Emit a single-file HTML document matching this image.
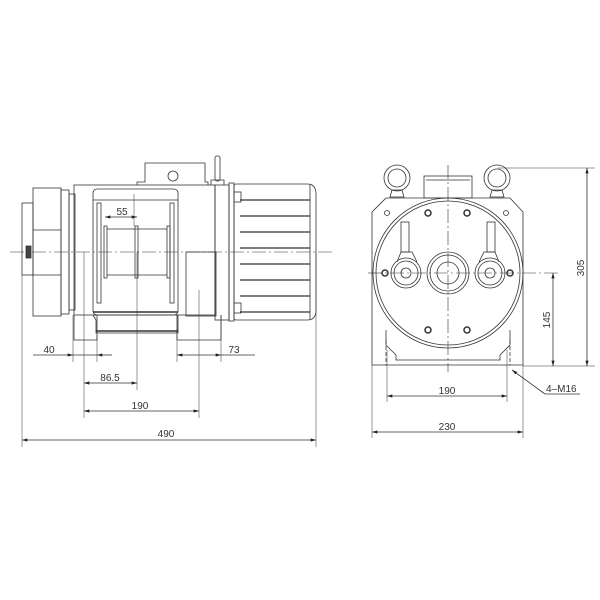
<!DOCTYPE html>
<html><head><style>html,body{margin:0;padding:0;background:#fff}svg{display:block}</style></head>
<body>
<svg width="600" height="600" viewBox="0 0 600 600" xmlns="http://www.w3.org/2000/svg" font-family="Liberation Sans, sans-serif" font-size="10" fill="none" stroke="#333" stroke-width="0.8">
<defs>
<marker id="a" viewBox="0 0 10 6" refX="10" refY="3" markerWidth="8" markerHeight="4" orient="auto-start-reverse"><path d="M0,0L10,3L0,6z" fill="#222" stroke="none"/></marker>
</defs>
<!-- LEFT VIEW -->
<line x1="10" y1="252" x2="335" y2="252" stroke-dasharray="14,3,2,3" stroke-width="0.6"/>
<rect x="22" y="203" width="11" height="72"/>
<rect x="26" y="246" width="5" height="12" fill="#444"/>
<rect x="33" y="188" width="28" height="128"/>
<line x1="33" y1="230" x2="61" y2="230"/><line x1="33" y1="275" x2="61" y2="275"/>
<rect x="61" y="190" width="8" height="124"/>
<rect x="69" y="194" width="6" height="116"/>
<rect x="74" y="185" width="141" height="130"/>
<path d="M74,315 V340 H97 V315"/>
<path d="M177,315 V340 H221 V315"/>
<rect x="93" y="189" width="85" height="126" rx="4"/>
<line x1="93" y1="200" x2="178" y2="200"/>
<rect x="97" y="203" width="4" height="100"/>
<rect x="170" y="203" width="4" height="100"/>
<rect x="104" y="226" width="3" height="52"/>
<rect x="135" y="226" width="3" height="52"/>
<rect x="167" y="226" width="3" height="52"/>
<line x1="107" y1="229" x2="167" y2="229"/><line x1="107" y1="275" x2="167" y2="275"/>
<line x1="93" y1="312" x2="178" y2="312" stroke-width="1.5"/>
<path d="M93,315 L96,320 V333 H178 V315"/>
<line x1="96" y1="331" x2="178" y2="331" stroke-width="1.5"/>
<rect x="186" y="252" width="30" height="64"/>
<path d="M137,185 V182 H145 V163 H205 V182 H208 V185"/>
<circle cx="173" cy="176" r="5"/>
<rect x="215" y="156" width="5" height="25" rx="2"/>
<path d="M211,185 V180 H224 V185"/>
<rect x="215" y="185" width="14" height="135"/>
<rect x="229" y="183" width="5" height="138"/>
<rect x="234" y="184" width="76" height="136" rx="2"/>
<path d="M310,184 Q316,186 316,194 V310 Q316,318 310,320"/>
<g stroke-width="1.3">
<line x1="240" y1="200" x2="310" y2="200"/><line x1="240" y1="216" x2="310" y2="216"/>
<line x1="240" y1="232" x2="310" y2="232"/><line x1="240" y1="248" x2="310" y2="248"/>
<line x1="240" y1="264" x2="310" y2="264"/><line x1="240" y1="280" x2="310" y2="280"/>
<line x1="240" y1="296" x2="310" y2="296"/><line x1="240" y1="312" x2="310" y2="312"/>
</g>
<rect x="234" y="192" width="7" height="10"/><rect x="234" y="303" width="7" height="10"/>
<g stroke-width="0.5">
<line x1="73" y1="315" x2="73" y2="362"/><line x1="84" y1="252" x2="84" y2="418"/>
<line x1="97" y1="335" x2="97" y2="362"/><line x1="137" y1="252" x2="137" y2="390"/>
<line x1="199" y1="290" x2="199" y2="418"/><line x1="177" y1="335" x2="177" y2="362"/>
<line x1="221" y1="315" x2="221" y2="362"/>
<line x1="22" y1="275" x2="22" y2="447"/><line x1="316" y1="252" x2="316" y2="447"/>
<line x1="134" y1="194" x2="134" y2="226"/>
</g>
<line x1="33" y1="355" x2="73" y2="355" marker-end="url(#a)"/>
<line x1="112" y1="355" x2="97" y2="355" marker-end="url(#a)"/>
<line x1="73" y1="355" x2="97" y2="355"/>
<line x1="177" y1="355" x2="221" y2="355" marker-start="url(#a)" marker-end="url(#a)"/>
<line x1="221" y1="355" x2="255" y2="355"/>
<line x1="84" y1="383" x2="137" y2="383" marker-start="url(#a)" marker-end="url(#a)"/>
<line x1="84" y1="411" x2="199" y2="411" marker-start="url(#a)" marker-end="url(#a)"/>
<line x1="22" y1="440" x2="316" y2="440" marker-start="url(#a)" marker-end="url(#a)"/>
<line x1="105" y1="217" x2="137" y2="217" marker-start="url(#a)" marker-end="url(#a)"/>
<g fill="#333" stroke="none" text-anchor="middle">
<text x="122" y="215">55</text>
<text x="49" y="353">40</text>
<text x="234" y="353">73</text>
<text x="110" y="381">86.5</text>
<text x="140" y="409">190</text>
<text x="166" y="437">490</text>
</g>
<!-- RIGHT VIEW -->
<line x1="448" y1="165" x2="448" y2="372" stroke-dasharray="14,3,2,3" stroke-width="0.6"/>
<line x1="368" y1="273" x2="560" y2="273" stroke-dasharray="14,3,2,3" stroke-width="0.6"/>
<path d="M372,212 L386,198 H510 L523,212 V365 H372 Z"/>
<circle cx="448" cy="273" r="75"/><circle cx="448" cy="273" r="72"/>
<path d="M386,330 V345 L396,355 V360 H500 V355 L510,345 V330"/>
<line x1="386" y1="340" x2="386" y2="365" stroke-dasharray="4,2"/>
<line x1="510" y1="340" x2="510" y2="365" stroke-dasharray="4,2"/>
<rect x="424" y="176" width="48" height="22"/>
<line x1="426" y1="180" x2="470" y2="180"/>
<circle cx="397" cy="178" r="13"/><circle cx="397" cy="178" r="9"/>
<path d="M390,197 L392,190 H402 L404,197 Z"/>
<circle cx="497" cy="178" r="13"/><circle cx="497" cy="178" r="9"/>
<path d="M490,197 L492,190 H502 L504,197 Z"/>
<circle cx="387" cy="213" r="2.5"/><circle cx="506" cy="213" r="2.5"/>
<circle cx="428" cy="213" r="3" stroke-width="1.5"/><circle cx="467" cy="213" r="3" stroke-width="1.5"/>
<circle cx="428" cy="330" r="3" stroke-width="1.5"/><circle cx="467" cy="330" r="3" stroke-width="1.5"/>
<circle cx="385" cy="273" r="3" stroke-width="1.5"/><circle cx="510" cy="273" r="3" stroke-width="1.5"/>
<circle cx="448" cy="273" r="21"/><circle cx="448" cy="273" r="18"/><circle cx="448" cy="273" r="11"/>
<rect x="401" y="222" width="8" height="30"/><rect x="487" y="222" width="8" height="30"/>
<circle cx="406" cy="273" r="15"/><circle cx="406" cy="273" r="12"/><circle cx="406" cy="273" r="5"/>
<circle cx="490" cy="273" r="15"/><circle cx="490" cy="273" r="12"/><circle cx="490" cy="273" r="5"/>
<path d="M397,262 L401,252 H412 L417,262"/><path d="M479,262 L484,252 H495 L499,262"/>
<g stroke-width="0.5">
<line x1="498" y1="168" x2="595" y2="168"/><line x1="523" y1="366" x2="595" y2="366"/>
<line x1="372" y1="365" x2="372" y2="438"/><line x1="523" y1="365" x2="523" y2="438"/>
<line x1="387" y1="350" x2="387" y2="402"/><line x1="507" y1="350" x2="507" y2="402"/>
</g>
<line x1="587" y1="168" x2="587" y2="366" marker-start="url(#a)" marker-end="url(#a)"/>
<line x1="553" y1="273" x2="553" y2="366" marker-start="url(#a)" marker-end="url(#a)"/>
<line x1="387" y1="396" x2="507" y2="396" marker-start="url(#a)" marker-end="url(#a)"/>
<line x1="372" y1="432" x2="523" y2="432" marker-start="url(#a)" marker-end="url(#a)"/>
<line x1="545" y1="394" x2="512" y2="370" marker-end="url(#a)"/>
<line x1="545" y1="394" x2="580" y2="394"/>
<g fill="#333" stroke="none" text-anchor="middle">
<text x="447" y="394">190</text>
<text x="447" y="430">230</text>
<text x="546" y="392" text-anchor="start">4–M16</text>
<text transform="translate(584,268) rotate(-90)">305</text>
<text transform="translate(550,320) rotate(-90)">145</text>
</g>
</svg>
</body></html>
